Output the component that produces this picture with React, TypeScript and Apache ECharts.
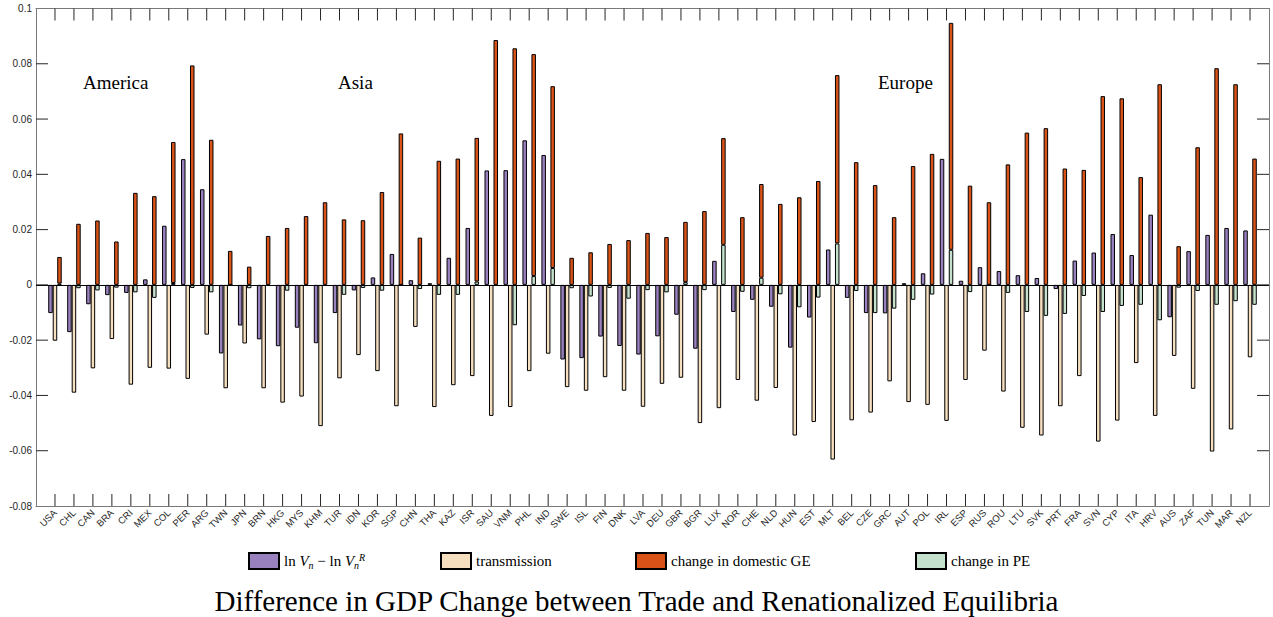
import React, { useEffect, useRef } from 'react';
import * as echarts from 'echarts';

const countries = ['USA','CHL','CAN','BRA','CRI','MEX','COL','PER','ARG','TWN','JPN','BRN','HKG','MYS','KHM','TUR','IDN','KOR','SGP','CHN','THA','KAZ','ISR','SAU','VNM','PHL','IND','SWE','ISL','FIN','DNK','LVA','DEU','GBR','BGR','LUX','NOR','CHE','NLD','HUN','EST','MLT','BEL','CZE','GRC','AUT','POL','IRL','ESP','RUS','ROU','LTU','SVK','PRT','FRA','SVN','CYP','ITA','HRV','AUS','ZAF','TUN','MAR','NZL'];

const lnV = [-0.0102,-0.0171,-0.0070,-0.0037,-0.0029,0.0020,0.0214,0.0455,0.0346,-0.0248,-0.0147,-0.0197,-0.0222,-0.0155,-0.0211,-0.0102,-0.0020,0.0027,0.0112,0.0017,0.0006,0.0098,0.0206,0.0414,0.0415,0.0523,0.0470,-0.0270,-0.0265,-0.0187,-0.0221,-0.0252,-0.0186,-0.0108,-0.0231,0.0087,-0.0098,-0.0054,-0.0079,-0.0227,-0.0118,0.0128,-0.0047,-0.0102,-0.0103,0.0006,0.0042,0.0456,0.0015,0.0064,0.0050,0.0035,0.0025,-0.0015,0.0088,0.0117,0.0184,0.0108,0.0254,-0.0117,0.0122,0.0181,0.0206,0.0197];

const transmission = [-0.0202,-0.0390,-0.0302,-0.0196,-0.0361,-0.0300,-0.0303,-0.0340,-0.0180,-0.0374,-0.0212,-0.0374,-0.0426,-0.0404,-0.0511,-0.0338,-0.0254,-0.0312,-0.0439,-0.0152,-0.0442,-0.0363,-0.0330,-0.0474,-0.0442,-0.0312,-0.0249,-0.0370,-0.0383,-0.0334,-0.0383,-0.0441,-0.0358,-0.0336,-0.0500,-0.0446,-0.0344,-0.0419,-0.0373,-0.0545,-0.0496,-0.0632,-0.0490,-0.0462,-0.0349,-0.0424,-0.0434,-0.0492,-0.0344,-0.0238,-0.0386,-0.0517,-0.0545,-0.0439,-0.0330,-0.0567,-0.0491,-0.0283,-0.0474,-0.0257,-0.0376,-0.0603,-0.0523,-0.0262];

const changePE = [0.0005,-0.0012,-0.0020,-0.0010,-0.0027,-0.0047,0.0007,-0.0011,-0.0027,0.0000,-0.0012,-0.0003,-0.0021,-0.0003,-0.0004,-0.0036,-0.0011,-0.0021,0.0000,-0.0015,-0.0036,-0.0036,0.0012,-0.0003,-0.0146,0.0032,0.0061,-0.0012,-0.0042,-0.0011,-0.0050,-0.0019,-0.0027,0.0010,-0.0019,0.0145,-0.0025,0.0026,-0.0034,-0.0081,-0.0046,0.0150,-0.0022,-0.0102,-0.0086,-0.0054,-0.0035,0.0127,-0.0026,0.0000,-0.0029,-0.0098,-0.0112,-0.0105,-0.0040,-0.0098,-0.0076,-0.0072,-0.0128,-0.0010,-0.0022,-0.0072,-0.0059,-0.0072];

const domesticGE = [0.0096,0.0221,0.0233,0.0157,0.0333,0.0321,0.0510,0.0794,0.0525,0.0123,0.0066,0.0177,0.0206,0.0249,0.0299,0.0237,0.0234,0.0336,0.0548,0.0171,0.0449,0.0457,0.0520,0.0886,0.0856,0.0803,0.0658,0.0098,0.0118,0.0148,0.0162,0.0188,0.0173,0.0218,0.0267,0.0386,0.0245,0.0339,0.0293,0.0317,0.0376,0.0609,0.0444,0.0361,0.0245,0.0430,0.0474,0.0821,0.0359,0.0299,0.0436,0.0551,0.0567,0.0421,0.0416,0.0683,0.0675,0.0390,0.0726,0.0140,0.0498,0.0784,0.0726,0.0457];

const yTickValues = [-0.06, -0.04, -0.02, 0, 0.02, 0.04, 0.06, 0.08];

const regionLabels = [
  { text: 'America', left: 83 },
  { text: 'Asia', left: 338 },
  { text: 'Europe', left: 878 },
];

const Y_MIN = -0.08;
const Y_MAX = 0.1;
const Y_STEP = 0.02;
const X_MIN = 0;
const X_MAX = countries.length + 1;

const TITLE = 'Difference in GDP Change between Trade and Renationalized Equilibria';

const FRAME = '#7a7a7a';
const TICK = '#262626';
const LABEL = '#262626';
const SERIF = '"Liberation Serif", "Times New Roman", serif';
const SANS = '"Liberation Sans", Arial, sans-serif';
const TICK_LEN = 12;

export default function App() {
  const ref = useRef<HTMLDivElement>(null);

  useEffect(() => {
    if (!ref.current) return;
    const chart = echarts.init(ref.current, null, { renderer: 'svg' });
    const pair = (arr: number[]) => arr.map((v, i) => [v, i + 1]);
    const border = { borderColor: '#000', borderWidth: 1 };
    const common = {
      type: 'bar',
      barWidth: 4.5,
      barGap: '0%',
      encode: { x: 1, y: 0 },
      xAxisIndex: 0,
      yAxisIndex: 0,
    };

    const legendCommon = {
      top: 552,
      itemWidth: 30,
      itemHeight: 16,
      icon: 'rect',
      padding: 0,
      selectedMode: false,
      formatter: (name: string) =>
        name === 'lnV' ? '{a|ln }{b|V}{c|n}{a| − ln }{b|V}{c|n}{d|R}' : name,
      textStyle: {
        fontFamily: SERIF,
        fontSize: 15,
        color: '#000',
        rich: {
          a: { fontFamily: SERIF, fontSize: 15, color: '#000' },
          b: { fontFamily: SERIF, fontSize: 15, fontStyle: 'italic', color: '#000' },
          c: { fontFamily: SERIF, fontSize: 10, fontStyle: 'italic', color: '#000', padding: [8, 0, 0, 0] },
          d: { fontFamily: SERIF, fontSize: 10, fontStyle: 'italic', color: '#000', padding: [0, 0, 8, 0] },
        },
      },
    };
    const yFmt = (v: number) => String(Math.round(v * 100) / 100 + 0);
    const noTick = { show: false };
    const xBase = {
      type: 'value',
      min: X_MIN,
      max: X_MAX,
      interval: 1,
      splitLine: { show: false },
      axisTick: noTick,
    };
    const yBase = {
      type: 'value',
      min: Y_MIN,
      max: Y_MAX,
      interval: Y_STEP,
      splitLine: { show: false },
      axisTick: noTick,
    };
    const frameLine = { show: true, onZero: false, lineStyle: { color: FRAME, width: 1 } };
    const labelGraphics = regionLabels.map((r, i) => ({
      type: 'text',
      id: 'region' + i,
      left: r.left,
      top: 73,
      style: { text: r.text, font: `19px ${SERIF}`, fill: '#000' },
    }));
    chart.setOption({
      animation: false,
      backgroundColor: '#fff',
      grid: { left: 36, right: 4, top: 8.5, bottom: 111, containLabel: false },
      title: {
        text: TITLE,
        left: 'center',
        top: 581,
        textStyle: { fontFamily: SERIF, fontSize: 29, fontWeight: 'normal', color: '#000' },
      },
      legend: [
        { ...legendCommon, left: 248, data: ['lnV'] },
        { ...legendCommon, left: 440, data: ['transmission'] },
        { ...legendCommon, left: 635, data: ['change in domestic GE'] },
        { ...legendCommon, left: 915, data: ['change in PE'] },
      ],
      xAxis: [
        {
          ...xBase,
          position: 'bottom',
          axisLine: frameLine,
          axisLabel: {
            show: true,
            rotate: 45,
            margin: 5,
            fontSize: 9.5,
            fontFamily: SANS,
            color: LABEL,
            formatter: (v: number) => countries[v - 1] ?? '',
          },
        },
        { ...xBase, position: 'top', axisLine: frameLine, axisLabel: { show: false } },
      ],
      yAxis: [
        {
          ...yBase,
          position: 'left',
          axisLine: frameLine,
          axisLabel: { show: true, margin: 4, fontSize: 10, fontFamily: SANS, color: LABEL, formatter: yFmt },
        },
        { ...yBase, position: 'right', axisLine: frameLine, axisLabel: { show: false } },
      ],
      graphic: labelGraphics,
      series: [
        {
          ...common,
          name: 'lnV',
          data: pair(lnV),
          itemStyle: { color: '#9980bf', ...border },
          markLine: {
            silent: true,
            symbol: ['none', 'none'],
            label: { show: false },
            lineStyle: { color: '#000', width: 1, type: 'solid' },
            data: [{ yAxis: 0 }],
          },
        },
        {
          ...common,
          name: 'transmission',
          data: pair(transmission),
          itemStyle: { color: '#f6dfbf', ...border },
        },
        {
          ...common,
          name: 'change in PE',
          stack: 'ge',
          data: pair(changePE),
          itemStyle: { color: '#c3e1cc', ...border },
        },
        {
          ...common,
          name: 'change in domestic GE',
          stack: 'ge',
          data: pair(domesticGE),
          itemStyle: { color: '#d95319', ...border },
        },
      ],
    });

    // inward tick marks on all four sides, placed through the axes' scales
    const finder = { xAxisIndex: 0, yAxisIndex: 0 };
    const px = (x: number, y: number) => chart.convertToPixel(finder as any, [x, y]) as number[];
    const tickStyle = { stroke: TICK, lineWidth: 1 };
    const ticks: any[] = [];
    countries.forEach((_, i) => {
      const b = px(i + 1, Y_MIN);
      const t = px(i + 1, Y_MAX);
      ticks.push({ type: 'line', id: 'xb' + i, silent: true, z: 10, shape: { x1: b[0], y1: b[1], x2: b[0], y2: b[1] - TICK_LEN }, style: tickStyle });
      ticks.push({ type: 'line', id: 'xt' + i, silent: true, z: 10, shape: { x1: t[0], y1: t[1], x2: t[0], y2: t[1] + TICK_LEN }, style: tickStyle });
    });
    yTickValues.forEach((v, i) => {
      const l = px(X_MIN, v);
      const r = px(X_MAX, v);
      ticks.push({ type: 'line', id: 'yl' + i, silent: true, z: 10, shape: { x1: l[0], y1: l[1], x2: l[0] + TICK_LEN, y2: l[1] }, style: tickStyle });
      ticks.push({ type: 'line', id: 'yr' + i, silent: true, z: 10, shape: { x1: r[0], y1: r[1], x2: r[0] - TICK_LEN, y2: r[1] }, style: tickStyle });
    });
    chart.setOption({ graphic: [...labelGraphics, ...ticks] });

    return () => chart.dispose();
  }, []);

  return (
    <div
      ref={ref}
      style={{ position: 'absolute', left: 0, top: 0, width: 1273, height: 617, background: '#fff' }}
    />
  );
}
